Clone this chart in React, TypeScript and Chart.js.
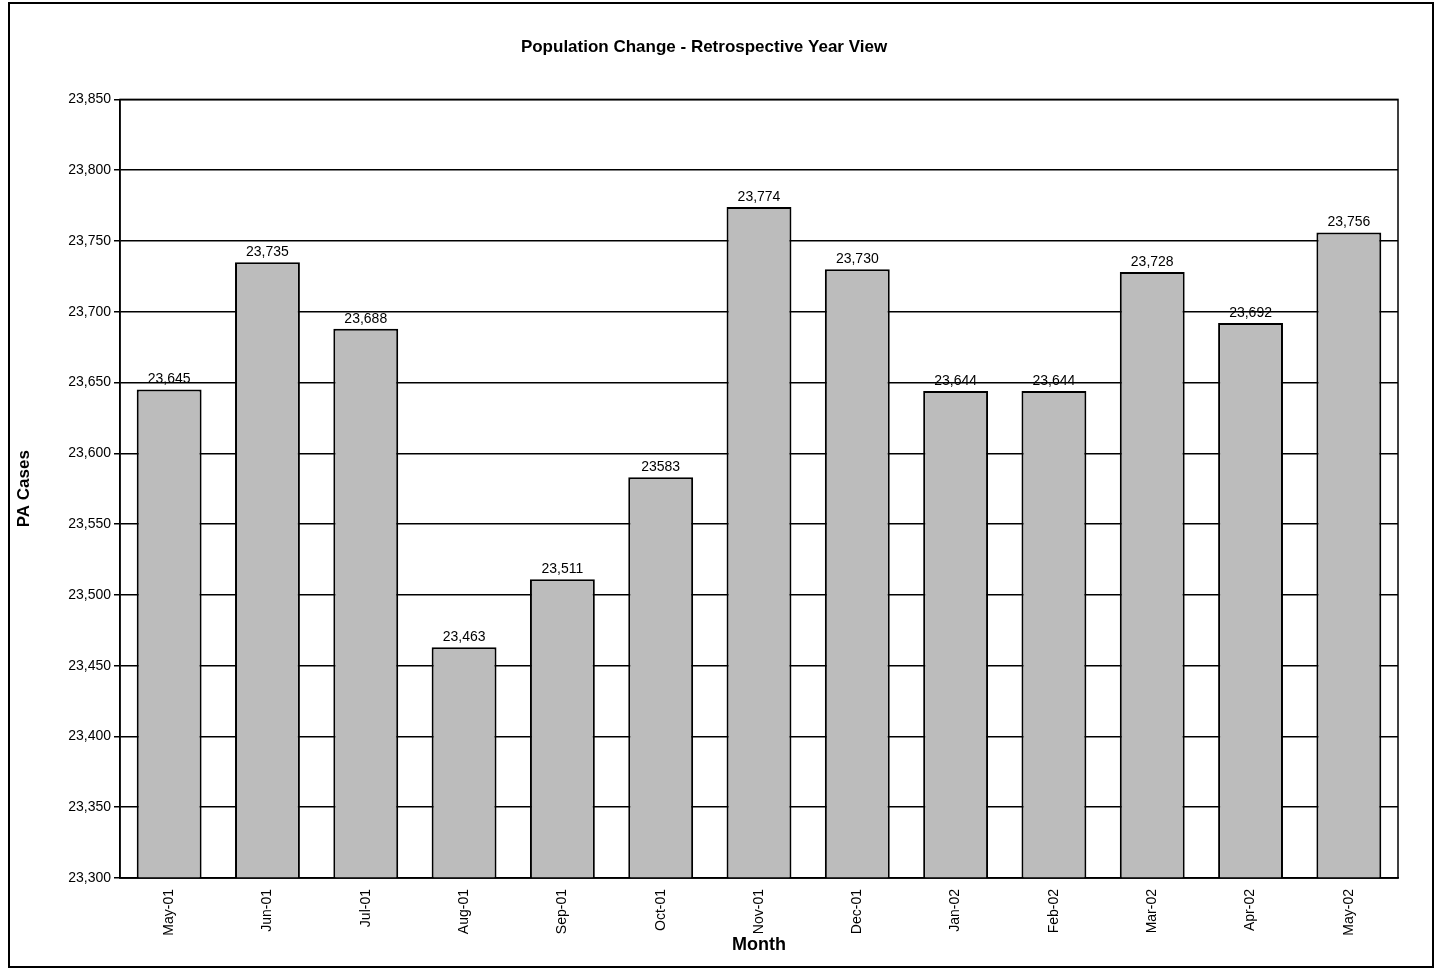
import React, { useEffect, useRef } from 'react';
import Chart from 'chart.js/auto';

const months = ['May-01', 'Jun-01', 'Jul-01', 'Aug-01', 'Sep-01', 'Oct-01', 'Nov-01', 'Dec-01', 'Jan-02', 'Feb-02', 'Mar-02', 'Apr-02', 'May-02'];
const cases = [23645, 23735, 23688, 23463, 23511, 23583, 23774, 23730, 23644, 23644, 23728, 23692, 23756];
const valueLabels = ['23,645', '23,735', '23,688', '23,463', '23,511', '23583', '23,774', '23,730', '23,644', '23,644', '23,728', '23,692', '23,756'];

const font = '"Liberation Sans", Arial, sans-serif';

const barLabels = {
  id: 'barLabels',
  afterDatasetsDraw(chart: any) {
    const ctx = chart.ctx;
    const meta = chart.getDatasetMeta(0);
    ctx.save();
    ctx.font = `14px ${font}`;
    ctx.fillStyle = '#000';
    ctx.textAlign = 'center';
    ctx.textBaseline = 'bottom';
    meta.data.forEach((bar: any, i: number) => {
      ctx.fillText(valueLabels[i], bar.x, bar.y - 3);
    });
    const a = chart.chartArea;
    ctx.strokeStyle = '#000';
    ctx.lineWidth = 1.5;
    ctx.strokeRect(a.left, a.top, a.right - a.left, a.bottom - a.top);
    ctx.restore();
  },
};

const App: React.FC = () => {
  const chartRef = useRef<HTMLCanvasElement>(null);

  useEffect(() => {
    if (!chartRef.current) return;
    const chart = new Chart(chartRef.current, {
      type: 'bar',
      data: {
        labels: months,
        datasets: [
          {
            data: cases,
            backgroundColor: '#bcbcbc',
            borderColor: '#000',
            borderWidth: 2,
            borderSkipped: false,
            barPercentage: 0.66,
            categoryPercentage: 1,
          },
        ],
      },
      options: {
        animation: false,
        responsive: true,
        maintainAspectRatio: false,
        layout: { padding: { left: 0, right: 34, bottom: 6 } },
        plugins: {
          legend: { display: false },
          tooltip: { enabled: false },
          title: {
            display: true,
            text: 'Population Change - Retrospective Year View',
            color: '#000',
            font: { family: font, size: 17, weight: 'bold' },
            padding: { top: 33, bottom: 42 },
          },
        },
        scales: {
          y: {
            min: 23300,
            max: 23850,
            afterFit: (s: any) => { s.width = 110; },
            ticks: {
              stepSize: 50,
              color: '#000',
              font: { family: font, size: 14 },
              callback: (v: any) => Number(v).toLocaleString('en-US'),
            },
            grid: { color: '#000', lineWidth: 1.5, tickLength: 6 },
            border: { color: '#000', width: 1.5 },
            title: {
              display: true,
              text: 'PA Cases',
              color: '#000',
              font: { family: font, size: 17, weight: 'bold' },
            },
          },
          x: {
            afterFit: (s: any) => { s.height = 82; },
            ticks: {
              color: '#000',
              minRotation: 90,
              maxRotation: 90,
              font: { family: font, size: 14 },
            },
            grid: { display: false },
            border: { color: '#000', width: 1.5 },
            title: {
              display: true,
              text: 'Month',
              color: '#000',
              padding: { top: -4 },
              font: { family: font, size: 18, weight: 'bold' },
            },
          },
        },
      },
      plugins: [barLabels],
    });
    return () => chart.destroy();
  }, []);

  return (
    <div style={{ position: 'absolute', left: 8, top: 2, width: 1426, height: 966, border: '2px solid #000', boxSizing: 'border-box', background: '#fff' }}>
      <canvas ref={chartRef} />
    </div>
  );
};

export default App;
